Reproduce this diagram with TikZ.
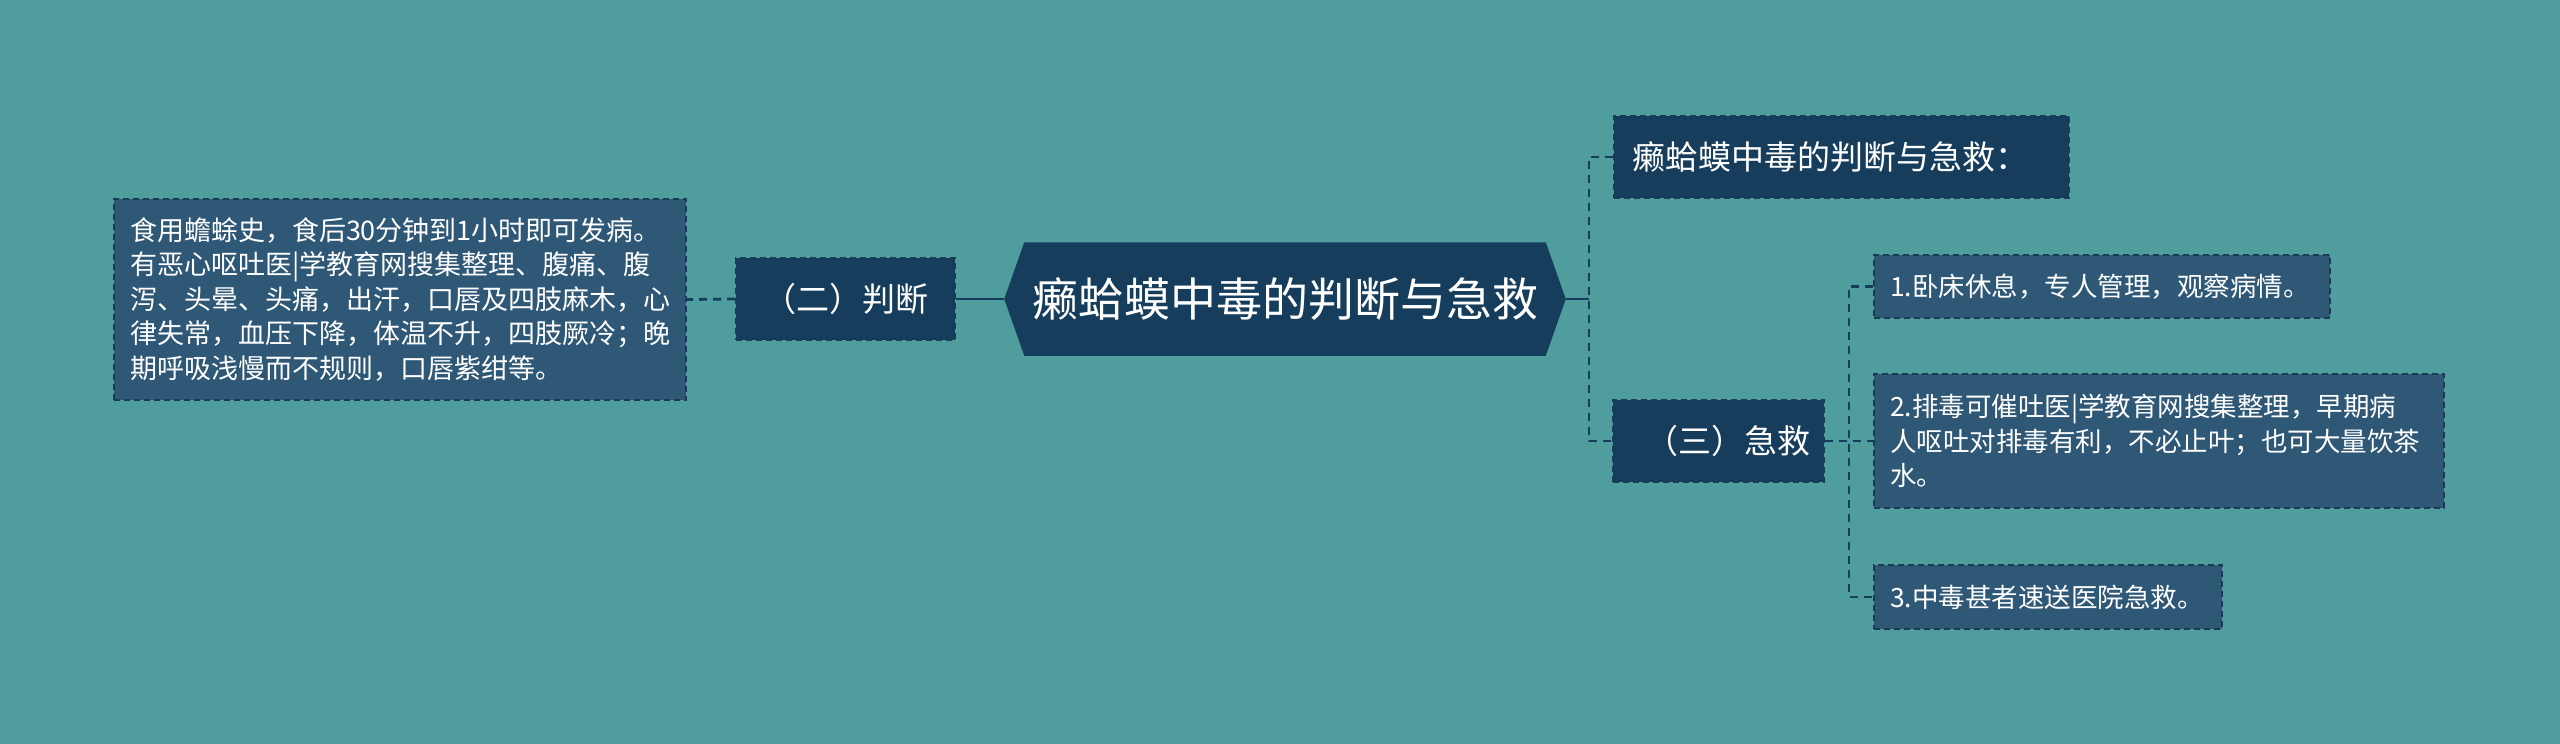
\documentclass[tikz,border=0pt]{standalone}
\usepackage{fontspec}
\newfontfamily\cjk{Noto Sans CJK SC}
\definecolor{bgteal}{RGB}{79,157,156}
\definecolor{navy}{RGB}{23,61,92}
\definecolor{slate}{RGB}{47,88,119}
\definecolor{edge}{RGB}{26,58,86}
\pgfdeclarelayer{back}
\pgfsetlayers{back,main}

\tikzset{every picture/.style={line width=0.75pt}}

\begin{document}
\begin{tikzpicture}[x=0.5pt,y=0.5pt,yscale=-1,
  box/.style={draw=edge, dash pattern=on 3pt off 2pt, line width=0.9pt, text=white, inner sep=0pt},
  topic/.style={box, fill=navy, minimum height=41pt, font=\cjk\fontsize{16.5}{20}\selectfont},
  leaf/.style={box, fill=slate, align=left, inner xsep=8pt, font=\cjk\fontsize{13.25}{17.25}\selectfont},
  link/.style={draw=navy, line width=1.4pt},
  dlink/.style={link, dash pattern=on 4pt off 3pt}]
\useasboundingbox (0,0) rectangle (2560,744);

% Centre topic
\node[font=\cjk\fontsize{23}{28}\selectfont, text=white, minimum width=280pt, minimum height=56pt, inner sep=0pt] (ctr) at (1285,299) {癞蛤蟆中毒的判断与急救};

% Branches
\node[topic, minimum width=109.5pt] (pd) at (845.5,299) {（二）判断};
\node[topic, minimum width=227.5pt, align=left, inner xsep=9pt, text width=209.5pt] (ttl) at (1841.5,157) {癞蛤蟆中毒的判断与急救：};
\node[topic, minimum width=105.5pt, align=right, inner xsep=7pt, text width=91.5pt] (jj) at (1718.5,441) {（三）急救};

% Leaves
\node[leaf, text width=270pt, minimum height=100.5pt, font=\cjk\fontsize{13.5}{17.25}\selectfont] (sj) at (400,299.5) {食用蟾蜍史，食后30分钟到1小时即可发病。\\有恶心呕吐医|学教育网搜集整理、腹痛、腹\\泻、头晕、头痛，出汗，口唇及四肢麻木，心\\律失常，血压下降，体温不升，四肢厥冷；晚\\期呼吸浅慢而不规则，口唇紫绀等。};
\node[leaf, text width=212pt, minimum height=31.5pt] (it1) at (2102,286.5) {1.卧床休息，专人管理，观察病情。};
\node[leaf, text width=269pt, minimum height=67pt] (it2) at (2159,441) {2.排毒可催吐医|学教育网搜集整理，早期病\\人呕吐对排毒有利，不必止叶；也可大量饮茶\\水。};
\node[leaf, text width=158pt, minimum height=32pt] (it3) at (2048,597) {3.中毒甚者速送医院急救。};

\coordinate (k1) at (1589,299);
\coordinate (k2) at (1849,441);

\begin{pgfonlayer}{back}
\fill[bgteal] (0,0) rectangle (2560,744);
\fill[navy] (ctr.west) -- ([xshift=10pt]ctr.north west) -- ([xshift=-10pt]ctr.north east) -- (ctr.east) -- ([xshift=-10pt]ctr.south east) -- ([xshift=10pt]ctr.south west) -- cycle;
\end{pgfonlayer}

% Connectors
\draw[link] (ctr.west) -- (pd.east);
\draw[dlink] (pd.west) -- (sj.east);
\draw[link] (ctr.east) -- (ctr.east -| k1);
\draw[dlink] (ttl.west) -- (ttl.west -| k1) -- (jj.west -| k1) -- (jj.west);
\draw[dlink] (jj.east) -- (it2.west);
\draw[dlink] (it1.west) -- (it1.west -| k2) -- (it3.west -| k2) -- (it3.west);

\end{tikzpicture}
\end{document}
